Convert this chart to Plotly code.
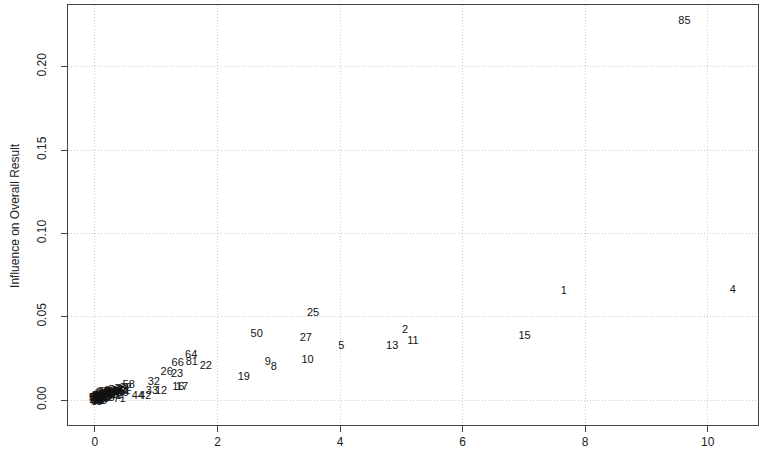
import plotly.graph_objects as go

# Baujat plot: contribution to heterogeneity (x) vs influence on overall result (y)
study = [85, 1, 4, 25, 2, 11, 13, 5, 15, 50, 27, 10, 9, 8, 19, 64, 81, 22, 66, 26,
         23, 16, 17, 32, 33, 12, 58, 44, 42, 71, 63,
         3, 6, 7, 14, 18, 20, 21, 24, 28, 29, 30, 31, 34, 35, 36, 37, 38, 39, 40, 41,
         43, 45, 46, 47, 48, 49, 51, 52, 53, 54, 55, 56, 57, 59, 60, 61, 62, 65, 67, 68,
         69, 70, 72, 73, 74, 75, 76, 77, 78, 79, 80, 82, 83, 84, 86]

heterogeneity = [9.62, 7.65, 10.41, 3.56, 5.06, 5.19, 4.85, 4.02, 7.01, 2.64, 3.44, 3.47,
                 2.82, 2.92, 2.43, 1.57, 1.58, 1.81, 1.35, 1.17, 1.34, 1.36, 1.42, 0.96,
                 0.93, 1.08, 0.55, 0.70, 0.82, 0.40, 0.45,
                 0.02, 0.05, 0.00, 0.30, 0.12, 0.08, 0.03, 0.18, 0.22, 0.01, 0.35, 0.06,
                 0.15, 0.26, 0.10, 0.04, 0.40, 0.14, 0.20, 0.33, 0.07, 0.02, 0.45, 0.11,
                 0.28, 0.16, 0.05, 0.38, 0.09, 0.24, 0.00, 0.13, 0.19, 0.32, 0.06, 0.48,
                 0.03, 0.17, 0.27, 0.09, 0.01, 0.42, 0.21, 0.07, 0.12, 0.36, 0.04, 0.23,
                 0.15, 0.08, 0.30, 0.50, 0.02, 0.25, 0.10]

influence = [0.2275, 0.0654, 0.0660, 0.0520, 0.0420, 0.0350, 0.0320, 0.0325, 0.0384,
             0.0396, 0.0372, 0.0240, 0.0228, 0.0198, 0.0138, 0.0270, 0.0228, 0.0204,
             0.0222, 0.0168, 0.0156, 0.0078, 0.0078, 0.0108, 0.0054, 0.0054, 0.0088,
             0.0020, 0.0022, 0.0005, 0.0060,
             0.0003, 0.0010, -0.0008, 0.0035, 0.0015, 0.0004, 0.0018, 0.0028, 0.0012,
             0.0000, 0.0050, -0.0005, 0.0032, 0.0042, 0.0022, -0.0012, 0.0048, 0.0008,
             0.0038, 0.0020, 0.0026, -0.0015, 0.0040, 0.0030, 0.0026, 0.0018, 0.0020,
             0.0030, 0.0010, 0.0045, 0.0008, 0.0005, 0.0022, 0.0058, 0.0014, 0.0052,
             -0.0004, 0.0010, 0.0033, 0.0034, 0.0012, 0.0062, 0.0030, -0.0002, 0.0040,
             0.0038, 0.0006, 0.0020, 0.0045, 0.0018, 0.0048, 0.0070, 0.0010, 0.0055,
             -0.0005]

x_ticks = [0, 2, 4, 6, 8, 10]
y_ticks = [0.00, 0.05, 0.10, 0.15, 0.20]

FONT = "Liberation Sans, Arial"

fig = go.Figure()
fig.add_trace(go.Scatter(
    x=heterogeneity, y=influence, mode="text",
    text=[str(s) for s in study],
    textfont=dict(family=FONT, size=11, color="#111111"),
    hoverinfo="skip", showlegend=False,
))

axis_common = dict(
    showline=True, linecolor="#444444", linewidth=1, mirror=True,
    ticks="outside", ticklen=6, tickcolor="#444444",
    showgrid=True, gridcolor="#cccccc", griddash="1px,2px", gridwidth=1,
    zeroline=False, automargin=False,
    tickfont=dict(family=FONT, size=12, color="#222222"),
)

fig.update_layout(
    width=765, height=452, autosize=False,
    margin=dict(l=68, r=7, t=5, b=27),
    plot_bgcolor="white", paper_bgcolor="white",
    xaxis=dict(range=[-0.44, 10.82], tickvals=x_ticks,
               ticktext=[str(v) for v in x_ticks], **axis_common),
    yaxis=dict(range=[-0.015, 0.237], tickvals=y_ticks,
               ticktext=[f"{v:.2f}" for v in y_ticks], tickangle=-90,
               ticklabelstandoff=10, **axis_common),
    annotations=[dict(
        text="Influence on Overall Result", textangle=-90,
        xref="paper", yref="paper", x=-0.09, y=0.5,
        showarrow=False, font=dict(family=FONT, size=12, color="#222222"),
    )],
)

# drop the default page margin so the figure sits at the window's corner
fig.write_html("out.html", config={"displayModeBar": False},
               post_script="document.body.style.margin='0';")
